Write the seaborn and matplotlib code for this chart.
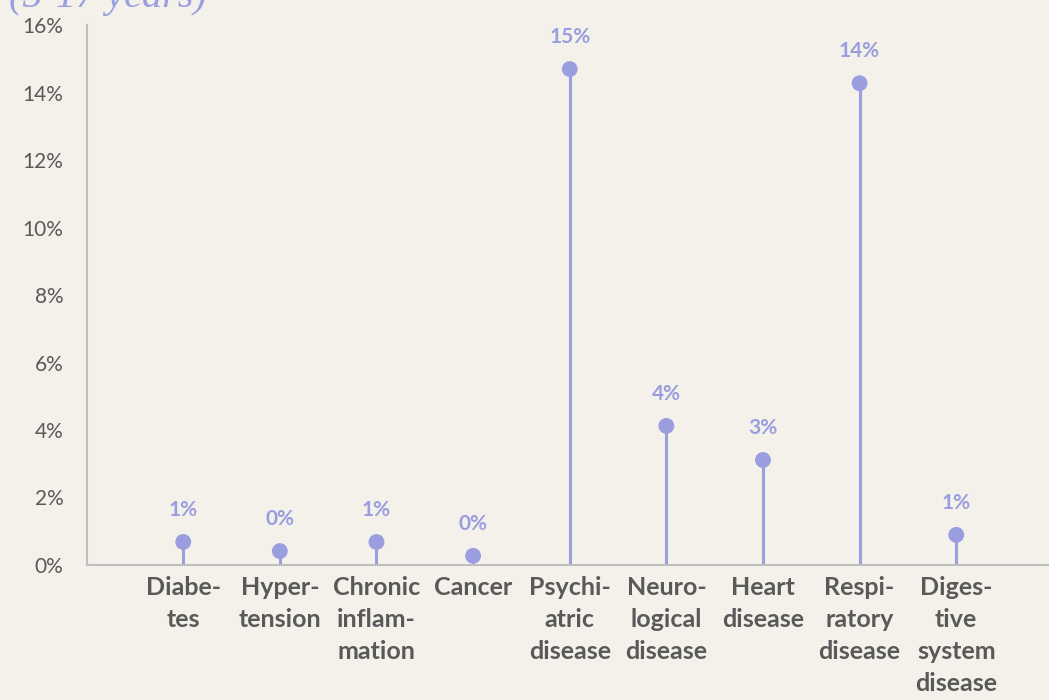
import matplotlib
matplotlib.use("Agg")
import matplotlib.pyplot as plt
import numpy as np
import pandas as pd
import seaborn as sns

# Данные
categories = ["Diabe-\ntes", "Hyper-\ntension", "Chronic\ninflam-\nmation", "Cancer",
              "Psychi-\natric\ndisease", "Neuro-\nlogical\ndisease", "Heart\ndisease",
              "Respi-\nratory\ndisease", "Diges-\ntive\nsystem\ndisease"]
values = [0.68, 0.41, 0.68, 0.27, 14.7, 4.12, 3.11, 14.28, 0.89]
value_labels = ["1%", "0%", "1%", "0%", "15%", "4%", "3%", "14%", "1%"]
yticks = [0, 2, 4, 6, 8, 10, 12, 14, 16]

bg = "#f3f1e9"
purple = "#9a9de0"
grey = "#595959"

sns.set_theme(style="white")
plt.rcParams["font.family"] = ["Lato", "DejaVu Sans"]

df = pd.DataFrame({"cat": categories, "val": values})
pos = np.arange(len(categories))

fig = plt.figure(figsize=(10.49, 7.00), dpi=100, facecolor=bg)
ax = fig.add_axes([0.083, 0.193, 0.917, 0.771])
ax.set_facecolor(bg)

ax.vlines(pos, 0, df["val"], color=purple, linewidth=2.2, zorder=2)
sns.scatterplot(x=pos, y=df["val"], ax=ax, color=purple, s=130, edgecolor="none", zorder=3)

for i, (v, lab) in enumerate(zip(values, value_labels)):
    ax.annotate(lab, (i, v), xytext=(0, 23), textcoords="offset points",
                ha="center", va="center", color=purple, fontsize=15, fontweight="bold")

ax.set_xlim(-0.995, 8.96)
ax.set_ylim(0, 16)
ax.set_yticks(yticks)
ax.set_yticklabels([f"{t}%" for t in yticks], color=grey, fontsize=15)
ax.set_xticks(pos)
ax.set_xticklabels(categories, color=grey, fontsize=18, fontweight="bold", linespacing=1.48)
ax.tick_params(axis="both", length=0)
ax.tick_params(axis="x", pad=8)
ax.tick_params(axis="y", pad=17)
ax.set_xlabel("")
ax.set_ylabel("")

for s in ["top", "right"]:
    ax.spines[s].set_visible(False)
ax.spines["left"].set_color("#c0c0c0")
ax.spines["bottom"].set_color("#c0c0c0")
ax.spines["left"].set_linewidth(1.5)
ax.spines["bottom"].set_linewidth(1.5)

# обрезанный заголовок сверху (в оригинале тоже срезан краем)
fig.text(0.009, 0.99, "(5-17 years)", color=purple, fontsize=29, fontstyle="italic",
         family="Liberation Serif", va="baseline", ha="left")

fig.savefig("out.png", dpi=100, facecolor=bg)
